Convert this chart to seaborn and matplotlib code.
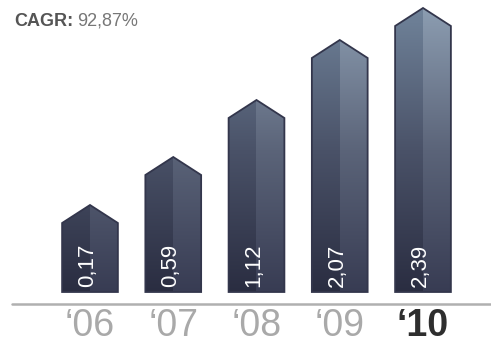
import numpy as np
import pandas as pd
import matplotlib
matplotlib.use("Agg")
import matplotlib.pyplot as plt
import seaborn as sns
from matplotlib.patches import Polygon
from matplotlib.colors import LinearSegmentedColormap

# data
years = ["\u201806", "\u201807", "\u201808", "\u201809", "\u201810"]
values = ["0,17", "0,59", "1,12", "2,07", "2,39"]
heights = [87, 135, 192, 252, 284]   # bar peak heights (drawing units, not to value scale)
cagr = "92,87%"

sns.set_style("white")
plt.rcParams["font.family"] = ["Liberation Sans", "DejaVu Sans"]

fig = plt.figure(figsize=(4.91, 3.44), dpi=100)
ax = fig.add_axes([0, 0, 1, 1])

df = pd.DataFrame({"year": years, "height": heights})
sns.barplot(data=df, x="year", y="height", width=0.67, color="#3a3e55", ax=ax)

roof = 18
ymax = 284
left_cmap = LinearSegmentedColormap.from_list("l", ["#2a2d41", "#4a5268", "#70839a"])
right_cmap = LinearSegmentedColormap.from_list("r", ["#383c53", "#5b6479", "#8c9db1"])
grad = np.linspace(0, 1, 256).reshape(-1, 1)

for i, p in enumerate(ax.patches):
    x0, w, h = p.get_x(), p.get_width(), p.get_height()
    p.set_visible(False)
    verts = [(x0, 0), (x0, h - roof), (x0 + w / 2, h), (x0 + w, h - roof), (x0 + w, 0)]
    for j, cm in enumerate([left_cmap, right_cmap]):
        im = ax.imshow(grad, extent=[x0 + j * w / 2, x0 + (j + 1) * w / 2, 0, ymax],
                       cmap=cm, origin="lower", aspect="auto", zorder=2)
        clip = Polygon(verts, closed=True, transform=ax.transData)
        im.set_clip_path(clip)
    ax.add_patch(Polygon(verts, closed=True, fill=False, edgecolor="#33364c",
                         linewidth=1.3, joinstyle="miter", zorder=3))
    cx = x0 + w / 2
    ax.text(cx - 0.03, 5, values[i], rotation=90, rotation_mode="anchor",
            ha="left", va="center", color="white", fontsize=16, zorder=4)
    last = i == len(years) - 1
    ax.text(cx, -34, years[i], ha="center", va="center", fontsize=27,
            fontweight="bold" if last else "normal",
            color="#2e2e2e" if last else "#a9a9a9")

# x: 0 -> 90px, 83.25 px per category; y: 1 unit = 1px, base at 292px from top
ax.set_xlim(-90 / 83.25, 401 / 83.25)
ax.set_ylim(-52, 292)
ax.axhline(-12, xmin=12 / 491, xmax=1, color="#b0b0b0", linewidth=1.8, zorder=1)
ax.set_axis_off()

t = fig.text(14 / 491, 1 - 21 / 344, "CAGR:", fontsize=13, fontweight="bold",
             color="#555555", ha="left", va="center")
fig.canvas.draw()
ax.annotate(cagr, xy=(1, 0.5), xycoords=t, xytext=(3, 0), textcoords="offset points",
            fontsize=13, color="#777777", ha="left", va="center")

fig.savefig("out.png", dpi=100)
